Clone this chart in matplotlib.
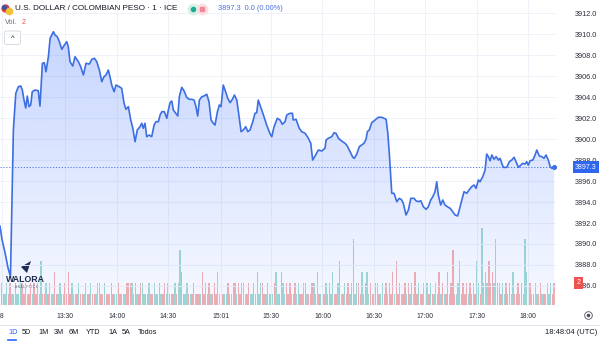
import numpy as np
import matplotlib
matplotlib.use('Agg')
import matplotlib.pyplot as plt
import matplotlib.transforms as mtransforms
from matplotlib.lines import Line2D
from matplotlib.patches import Polygon, FancyBboxPatch

plt.rcParams['font.family'] = ['Liberation Sans', 'DejaVu Sans']

# minutes relative to 13:30 and USD/COP price
t_min = [-37.9, -36.7, -35.0, -33.2, -31.8, -30.1, -28.7, -27.2, -25.8, -24.9,
         -23.9, -22.9, -22.0, -21.0, -20.0, -19.1, -17.5, -15.6, -14.6, -13.2,
         -12.1, -11.1, -9.7, -8.7, -6.8, -5.8, -4.5, -3.3, -1.9, -0.4,
         1.0, 1.9, 2.9, 4.5, 5.8, 7.8, 9.1, 10.7, 12.2, 14.2,
         15.6, 17.1, 18.5, 20.0, 21.4, 22.7, 23.9, 25.2, 26.2, 27.2,
         28.6, 29.7, 31.6, 33.0, 34.4, 35.5, 36.9, 38.3, 39.5, 40.8,
         42.1, 43.7, 44.7, 45.6, 46.6, 47.6, 49.0, 50.5, 51.9, 53.0,
         54.4, 55.4, 56.4, 57.9, 59.3, 60.2, 61.2, 62.2, 63.1, 64.5,
         65.7, 66.6, 68.0, 69.3, 70.9, 72.4, 73.8, 75.2, 76.3, 77.3,
         78.3, 79.7, 81.0, 82.6, 83.9, 85.1, 86.4, 87.4, 88.8, 89.9,
         90.9, 92.2, 93.6, 94.8, 96.2, 97.5, 98.7, 100.1, 101.4, 102.6,
         103.9, 105.3, 106.5, 107.8, 109.4, 110.7, 111.7, 112.6, 115.6, 117.5,
         119.5, 120.5, 121.8, 123.7, 125.3, 126.6, 128.2, 129.2, 131.1, 132.5,
         133.0, 134.6, 136.5, 137.9, 139.9, 141.8, 143.2, 144.3, 145.7, 147.6,
         149.6, 151.5, 152.1, 153.4, 155.4, 156.8, 157.9, 159.3, 161.2, 163.2,
         164.5, 166.1, 167.7, 168.6, 170.0, 171.5, 172.9, 174.2, 175.4, 176.2,
         177.3, 178.7, 180.7, 182.6, 184.6, 185.9, 187.1, 188.1, 188.9, 190.4,
         191.7, 193.3, 194.8, 196.2, 197.1, 198.7, 200.1, 201.5, 203.4, 204.5,
         205.9, 207.3, 208.8, 210.4, 211.7, 213.1, 214.3, 215.6, 216.6, 217.5,
         218.9, 220.1, 221.4, 222.8, 224.4, 225.9, 227.3, 228.8, 230.2, 231.2,
         232.5, 234.1, 235.4, 237.0, 238.3, 239.5, 240.9, 241.8, 243.4, 244.8,
         245.7, 246.7, 247.7, 248.7, 250.0, 251.2, 252.5, 253.5, 254.5, 255.4,
         257.4, 258.9, 260.3, 261.7, 262.8, 264.2, 265.6, 266.7, 268.1, 269.0,
         270.0, 271.0, 272.6, 273.9, 274.9, 276.4, 277.8, 279.1, 280.3, 281.6,
         282.6, 283.6, 285.0]
price = [3891.70, 3890.40, 3889.20, 3887.70, 3886.90, 3900.90, 3904.35, 3904.98, 3905.05, 3904.67,
         3903.71, 3902.95, 3904.09, 3903.08, 3903.24, 3904.50, 3904.67, 3904.60, 3903.14, 3907.21,
         3907.27, 3906.41, 3907.84, 3909.59, 3910.22, 3909.90, 3909.74, 3909.27, 3908.54, 3908.95,
         3909.27, 3908.79, 3907.36, 3906.95, 3907.84, 3907.36, 3906.89, 3906.10, 3907.21, 3907.14,
         3907.59, 3907.69, 3907.36, 3906.57, 3905.46, 3905.93, 3906.10, 3906.57, 3905.93, 3905.14,
         3904.50, 3905.14, 3904.98, 3904.83, 3903.40, 3902.83, 3903.08, 3901.81, 3901.02, 3899.74,
         3900.86, 3901.17, 3901.50, 3901.02, 3901.50, 3900.22, 3900.38, 3900.22, 3901.33, 3901.65,
         3901.65, 3902.29, 3902.60, 3902.60, 3901.97, 3902.76, 3903.46, 3903.62, 3902.76, 3902.45,
         3902.19, 3904.03, 3904.92, 3904.60, 3903.97, 3903.78, 3903.78, 3903.71, 3903.08, 3902.19,
         3903.71, 3904.03, 3904.10, 3904.26, 3903.55, 3901.81, 3901.50, 3901.33, 3902.60, 3903.24,
         3903.08, 3905.14, 3904.50, 3903.88, 3903.46, 3903.78, 3904.19, 3903.71, 3902.12, 3900.70,
         3900.86, 3901.17, 3900.70, 3900.86, 3901.65, 3902.45, 3902.50, 3903.71, 3902.29, 3901.33,
         3900.48, 3900.22, 3901.17, 3901.97, 3901.81, 3901.40, 3901.65, 3902.29, 3902.45, 3902.45,
         3901.81, 3901.88, 3901.02, 3900.70, 3900.54, 3900.07, 3899.59, 3898.00, 3898.38, 3898.95,
         3898.86, 3899.12, 3899.90, 3900.07, 3900.22, 3900.60, 3900.54, 3900.07, 3899.81, 3899.59,
         3899.33, 3898.79, 3898.26, 3898.16, 3898.57, 3899.27, 3899.43, 3899.59, 3899.97, 3900.70,
         3900.86, 3901.55, 3901.81, 3902.07, 3902.07, 3901.97, 3901.88, 3900.54, 3898.79, 3894.83,
         3894.83, 3894.03, 3894.35, 3894.19, 3893.88, 3892.76, 3893.24, 3894.35, 3894.35, 3894.12,
         3894.03, 3894.12, 3893.55, 3893.30, 3893.55, 3894.19, 3894.50, 3894.98, 3895.93, 3894.67,
         3893.71, 3894.19, 3893.71, 3893.55, 3893.40, 3893.08, 3892.76, 3892.67, 3893.55, 3894.19,
         3894.98, 3894.83, 3895.14, 3895.46, 3895.62, 3895.30, 3896.10, 3895.93, 3896.41, 3897.05,
         3898.57, 3898.32, 3897.93, 3898.48, 3898.07, 3898.32, 3898.00, 3898.16, 3897.69, 3897.30,
         3897.30, 3897.84, 3898.00, 3898.26, 3897.84, 3897.30, 3897.52, 3897.68, 3897.62, 3897.84,
         3897.52, 3897.93, 3898.00, 3898.48, 3898.95, 3898.38, 3898.32, 3898.16, 3898.48, 3898.00,
         3897.43, 3897.21, 3897.30]

# 1-minute volume bars starting at -37 min, u = up (teal), d = down (red)
vol_start = -37
vol_digits = ("2112121121" "1221211212" "1214112121" "1311211213" "1211121112"
              "1121112211" "2111211121" "1112222121" "1221112112" "1121121211"
              "1212531121" "1121111312" "1211213121" "1121122121" "2211211213"
              "1221121112" "3113212121" "1212112211" "1221311212" "1213112411"
              "2121261221" "3123121122" "1121212131" "4121121212" "1312112121"
              "2112131211" "3125112412" "1212121421" "7232423262" "2121212131"
              "1212163121" "1211211121" "212")
vol_dirs = ("dduudduddu" "uudduuddud" "dduuddudud" "udduududdd" "duuddudduu"
            "ddudduuudd" "uddudduudd" "duuddduudu" "dduudduddu" "uddudduudd"
            "duduudduud" "uddudduddu" "dduddduudd" "uudduddudd" "duudduuddd"
            "uuddudduud" "uudduudddu" "dduuddudud" "ddudududdu" "dduuddudud"
            "uddudduudd" "udduuddudu" "duuddudddu" "dduuddudud" "udduddudud"
            "uduuddudud" "duddduuudd" "ddudduduud" "uduuddduud" "dduuddduud"
            "ddudduuddu" "duuddudduu" "udd")

tick_pos = [-36.7, 0, 30, 60, 91, 120, 150, 180, 210, 240, 270]
tick_lab = ['8', '13:30', '14:00', '14:30', '15:01', '15:30', '16:00', '16:30',
            '17:00', '17:30', '18:00']
ranges = ['1D', '5D', '1M', '3M', '6M', 'YTD', '1A', '5A', 'Todos']
range_x = [8, 22, 38, 54, 69, 86, 108, 122, 138]

W, H = 600, 341


def fx(px):
    return px / W


def fy(py):
    return 1 - py / H


fig = plt.figure(figsize=(6, 3.41), dpi=100)
fig.patch.set_facecolor('white')

ax = fig.add_axes([0, fy(305), fx(556), fy(0) - fy(305)])
ax_v = ax.twinx()
ax.set_zorder(ax_v.get_zorder() + 1)
ax.patch.set_visible(False)

ybot, ytop = 3884.19, 3913.24
xmin, xmax = -37.9, 286.1

# volume
vol = [int(c) for c in vol_digits]
n = min(len(vol), len(vol_dirs))
vol_t = np.arange(vol_start, vol_start + n)
cols = ['#a3dbd4' if d == 'u' else '#f5b0b0' for d in vol_dirs[:n]]
ax_v.bar(vol_t, vol[:n], width=0.8, color=cols, linewidth=0)
ax_v.set_ylim(0, 305 / 11)
ax_v.set_yticks([])
for s in ax_v.spines.values():
    s.set_visible(False)

# area with gradient
line_col = '#3d6fe2'
poly = ax.fill_between(t_min, price, ybot, color='none', lw=0)
grad = np.zeros((256, 1, 4))
grad[:, 0, 0] = 41 / 255
grad[:, 0, 1] = 98 / 255
grad[:, 0, 2] = 1.0
grad[:, 0, 3] = np.linspace(0.29, 0.04, 256)
im = ax.imshow(grad, extent=[xmin, xmax, ybot, ytop], aspect='auto',
               origin='upper', zorder=2, interpolation='bilinear')
im.set_clip_path(poly.get_paths()[0], transform=ax.transData)
ax.plot(t_min, price, color=line_col, lw=1.2, zorder=4, solid_joinstyle='round')
ax.plot(t_min[-1], price[-1], 'o', color=line_col, ms=2.6, zorder=5)
ax.axhline(price[-1], color=line_col, lw=0.6, ls=(0, (1.5, 2)), zorder=3)

ax.set_xlim(xmin, xmax)
ax.set_ylim(ybot, ytop)

yt = np.arange(3886, 3913, 2)
ax.set_yticks(yt)
ax.set_yticklabels([f'{v:.1f}' for v in yt])
ax.yaxis.tick_right()
ax.tick_params(axis='y', length=0, pad=29.5, labelsize=5.2, labelcolor='#2a2e39')
for lbl in ax.get_yticklabels():
    lbl.set_horizontalalignment('right')
ax.set_xticks(tick_pos)
ax.set_xticklabels(tick_lab)
ax.tick_params(axis='x', length=0, pad=5.8, labelsize=4.9, labelcolor='#2a2e39')
ax.grid(color='#eff2f8', lw=0.7, zorder=0)
for s in ax.spines.values():
    s.set_visible(False)

# price / volume labels on the right scale
tr_p = mtransforms.blended_transform_factory(ax.transAxes, ax.transData)
ax.text(1.054, price[-1], f'{price[-1]:.1f}', transform=tr_p, ha='center', va='center',
        color='white', fontsize=5.0, zorder=6, clip_on=False,
        bbox=dict(boxstyle='square,pad=0.35', fc='#2f66f0', ec='none'))
tr_v = mtransforms.blended_transform_factory(ax.transAxes, ax_v.transData)
ax.text(1.0405, vol[n - 1], str(vol[n - 1]), transform=tr_v, ha='center', va='center',
        color='white', fontsize=5.0, zorder=6, clip_on=False,
        bbox=dict(boxstyle='square,pad=0.35', fc='#ef5350', ec='none'))

# header
fig.add_artist(Line2D([fx(5)], [fy(8)], marker='o', ms=5, color='#d9413b',
                      transform=fig.transFigure))
fig.add_artist(Line2D([fx(9)], [fy(11)], marker='o', ms=4.5, color='#f2c23a',
                      transform=fig.transFigure))
fig.add_artist(Line2D([fx(4)], [fy(7)], marker='o', ms=2.5, color='#3a53a4',
                      transform=fig.transFigure))
fig.text(fx(15), fy(9), 'U.S. DOLLAR / COLOMBIAN PESO · 1 · ICE', fontsize=5.9,
         color='#131722', va='center', ha='left')
fig.add_artist(Line2D([fx(192.5)], [fy(8.5)], marker='o', ms=7.5, color='#d8f1e6',
                      transform=fig.transFigure))
fig.add_artist(Line2D([fx(192.5)], [fy(8.5)], marker='o', ms=3, color='#22ab94',
                      transform=fig.transFigure))
fig.add_artist(Line2D([fx(202)], [fy(8.5)], marker='o', ms=7.5, color='#fbdfe2',
                      transform=fig.transFigure))
fig.add_artist(Line2D([fx(202)], [fy(8.5)], marker='s', ms=2.6, color='#f08a96',
                      transform=fig.transFigure))
fig.text(fx(218), fy(9), f'{price[-1]:.1f}  0.0 (0.00%)', fontsize=5.3,
         color='#4a72d9', va='center', ha='left')
fig.text(fx(5), fy(22), 'Vol.', fontsize=5.2, color='#6a6d78', va='center', ha='left')
fig.text(fx(22), fy(22), str(vol[n - 1]), fontsize=5.2, color='#ef5350', va='center', ha='left')
fig.add_artist(FancyBboxPatch((fx(4.5), fy(44.5)), fx(16), fy(31) - fy(44.5),
                              boxstyle='round,pad=0,rounding_size=0.004',
                              fc='white', ec='#d1d4dc', lw=0.6, transform=fig.transFigure))
fig.text(fx(12.5), fy(38), '^', fontsize=5.5, color='#131722', ha='center', va='center')

# watermark
fig.add_artist(Polygon([(fx(21), fy(267)), (fx(31), fy(261)), (fx(27), fy(273))],
                       closed=True, fc='#1e2b4c', ec='none', transform=fig.transFigure))
fig.text(fx(25), fy(279), 'WALORA', fontsize=6.3, fontweight='bold', color='#1e2b4c',
         ha='center', va='center')
fig.text(fx(26), fy(286.5), 'A N A L Y T I C S', fontsize=2.2, color='#555a66',
         ha='center', va='center')

# gear icon
fig.add_artist(Line2D([fx(588)], [fy(315)], marker='o', ms=5.5, mfc='none', mec='#50535e',
                      mew=0.6, transform=fig.transFigure))
fig.add_artist(Line2D([fx(588)], [fy(315)], marker='o', ms=1.6, color='#50535e',
                      transform=fig.transFigure))

# bottom toolbar
fig.add_artist(Line2D([0, 1], [fy(324.5), fy(324.5)], color='#e0e3eb', lw=0.7,
                      transform=fig.transFigure))
for lab, x in zip(ranges, range_x):
    fig.text(fx(x), fy(333), lab, fontsize=5.2, ha='left', va='center',
             color='#2962ff' if lab == '1D' else '#131722')
fig.add_artist(Line2D([fx(8), fx(15.5)], [fy(340), fy(340)], color='#2962ff', lw=1.2,
                      transform=fig.transFigure))
fig.text(fx(597), fy(333), '18:48:04 (UTC)', fontsize=5.4, ha='right', va='center',
         color='#131722')

fig.savefig('out.png', dpi=100, facecolor='white')
